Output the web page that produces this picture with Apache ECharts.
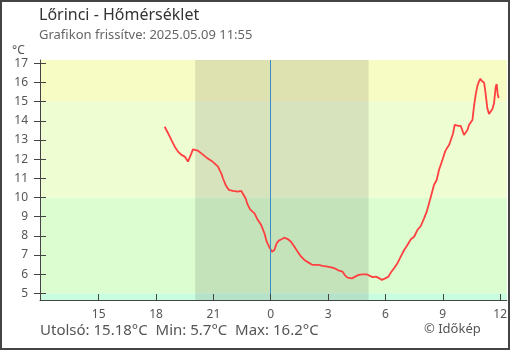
<!DOCTYPE html>
<html>
<head>
<meta charset="utf-8">
<title>Lőrinci - Hőmérséklet</title>
<script src="https://cdn.jsdelivr.net/npm/echarts@6/dist/echarts.min.js"></script>
<style>
  html, body { margin: 0; padding: 0; background: #fff; }
  #chart { width: 510px; height: 350px; }
</style>
</head>
<body>
<div id="chart"></div>
<script>
// Measurement times, in hours counted from 2025-05-08 00:00 (24 = midnight)
const hours = [
  18.45, 18.63, 18.80, 18.98, 19.15, 19.33, 19.50, 19.67, 19.76, 19.85,
  19.93, 20.02, 20.19, 20.37, 20.63, 20.89, 21.06, 21.24, 21.41, 21.50,
  21.64, 21.81, 22.02, 22.28, 22.46, 22.54, 22.68, 22.80, 22.92, 23.15,
  23.32, 23.50, 23.67, 23.79, 23.93, 24.07, 24.19, 24.31, 24.42, 24.59,
  24.71, 24.89, 25.06, 25.24, 25.41, 25.59, 25.76, 25.98, 26.19, 26.50,
  26.71, 26.97, 27.23, 27.41, 27.58, 27.76, 27.90, 28.02, 28.25, 28.42,
  28.60, 28.81, 29.02, 29.16, 29.33, 29.51, 29.68, 29.81, 29.99, 30.16,
  30.28, 30.45, 30.63, 30.80, 30.98, 31.15, 31.33, 31.50, 31.67, 31.85,
  32.02, 32.16, 32.28, 32.40, 32.54, 32.68, 32.80, 32.98, 33.12, 33.24,
  33.33, 33.42, 33.54, 33.62, 33.71, 33.82, 33.94, 34.03, 34.11, 34.20,
  34.29, 34.37, 34.46, 34.55, 34.63, 34.72, 34.81, 34.89, 34.97, 35.03,
  35.16, 35.24, 35.33, 35.42, 35.50, 35.59, 35.68, 35.77, 35.82, 35.87,
  35.92
];
// Temperature in °C
const temps = [
  13.69, 13.35, 13.00, 12.65, 12.39, 12.22, 12.13, 11.87, 11.85, 12.30,
  12.51, 12.57, 12.44, 12.30, 12.09, 11.92, 11.78, 11.61, 11.26, 11.00,
  10.65, 10.39, 10.34, 10.30, 10.34, 10.25, 9.96, 9.61, 9.38, 9.17,
  8.83, 8.56, 8.13, 7.69, 7.40, 7.17, 7.26, 7.61, 7.75, 7.83,
  7.90, 7.83, 7.69, 7.43, 7.17, 6.91, 6.74, 6.60, 6.48, 6.48,
  6.43, 6.39, 6.34, 6.27, 6.18, 6.13, 5.92, 5.82, 5.78, 5.87,
  5.96, 5.99, 5.99, 5.92, 5.84, 5.87, 5.78, 5.70, 5.78, 5.87,
  6.08, 6.31, 6.57, 6.91, 7.26, 7.52, 7.82, 7.95, 8.30, 8.51,
  8.91, 9.26, 9.69, 10.13, 10.65, 10.91, 11.43, 11.95, 12.39, 12.61,
  12.74, 13.00, 13.35, 13.78, 13.83, 13.73, 13.73, 13.66, 13.26, 13.21,
  13.52, 13.78, 13.87, 14.04, 14.74, 15.35, 15.82, 16.04, 16.20, 16.09,
  15.99, 15.43, 14.65, 14.36, 14.42, 14.60, 14.91, 15.78, 15.92, 15.40,
  15.18
];

// Axis ticks
const xTicks = [15, 18, 21, 24, 27, 30, 33, 36];
const yTicks = [5, 6, 7, 8, 9, 10, 11, 12, 13, 14, 15, 16, 17];

// Temperature zones and the night interval (sunset .. sunrise)
const zoneEdges = [5, 10, 15];
const sunset = 20.05;
const sunrise = 29.12;
const midnight = 24;

// Summary texts
const lastValue = '15.18';
const minValue = '5.7';
const maxValue = '16.2';

const X_MIN = 11.93, X_MAX = 36.35;
const Y_MIN = 4.65, Y_MAX = 17.17;

const FONT = '"Noto Sans", "Open Sans", sans-serif';
const zoneColors = ['#c9fde0', '#dcfdd0', '#effdd2', '#f6fcc4'];

const chart = echarts.init(document.getElementById('chart'), null, { renderer: 'canvas' });

const points = hours.map((h, i) => [h, temps[i]]);
const zoneBounds = [Y_MIN, ...zoneEdges, Y_MAX];
const zoneAreas = [];
for (let i = 0; i < zoneBounds.length - 1; i++) {
  zoneAreas.push([
    { yAxis: zoneBounds[i], itemStyle: { color: zoneColors[i] } },
    { yAxis: zoneBounds[i + 1] }
  ]);
}

const labelStyle = { color: '#555', fontSize: 12, fontFamily: FONT };

chart.setOption({
  animation: false,
  backgroundColor: '#fff',
  textStyle: { fontFamily: FONT },
  title: {
    left: 39,
    top: 7,
    padding: 0,
    itemGap: 6,
    text: 'Lőrinci - Hőmérséklet',
    subtext: 'Grafikon frissítve: 2025.05.09 11:55',
    textStyle: { color: '#333', fontSize: 16, fontWeight: 'normal', fontFamily: FONT },
    subtextStyle: { color: '#666', fontSize: 13, fontFamily: FONT }
  },
  grid: { left: 40, right: 2, top: 60, bottom: 50, containLabel: false },
  xAxis: [{
    type: 'value',
    z: 10,
    min: X_MIN,
    max: X_MAX,
    splitLine: { show: false },
    axisLine: { show: true, onZero: false, lineStyle: { color: '#444', width: 1 } },
    axisTick: { show: true, inside: true, length: 6, customValues: xTicks, lineStyle: { color: '#444' } },
    axisLabel: {
      ...labelStyle,
      margin: 9,
      customValues: xTicks,
      formatter: v => String(Math.round(v) % 24)
    }
  }],
  yAxis: [{
    type: 'value',
    z: 10,
    min: Y_MIN,
    max: Y_MAX,
    splitLine: { show: false },
    axisLine: { show: true, onZero: false, lineStyle: { color: '#444', width: 1 } },
    axisTick: { show: true, inside: false, length: 6, customValues: yTicks, lineStyle: { color: '#444' } },
    axisLabel: { ...labelStyle, margin: 12, customValues: yTicks }
  }, {
    type: 'value',
    z: 10,
    position: 'left',
    offset: 0,
    min: Y_MIN,
    max: Y_MAX,
    splitLine: { show: false },
    axisLine: { show: false },
    axisTick: { show: true, inside: true, length: 6, customValues: yTicks, lineStyle: { color: '#444' } },
    axisLabel: { show: false }
  }],
  series: [
    {
      name: 'zones',
      type: 'line',
      data: [],
      z: 1,
      silent: true,
      markArea: { silent: true, data: zoneAreas }
    },
    {
      name: 'night',
      type: 'line',
      data: [],
      z: 2,
      silent: true,
      markArea: {
        silent: true,
        itemStyle: { color: 'rgba(0,0,0,0.1)' },
        data: [[{ xAxis: sunset }, { xAxis: sunrise }]]
      },
      markLine: {
        silent: true,
        symbol: 'none',
        label: { show: false },
        lineStyle: { color: '#3a8cc4', width: 1, type: 'solid' },
        data: [{ xAxis: midnight }]
      }
    },
    {
      name: 'Hőmérséklet',
      type: 'line',
      data: points,
      z: 3,
      showSymbol: false,
      symbol: 'none',
      lineStyle: { color: '#ff4040', width: 1.8 }
    }
  ],
  graphic: [
    {
      type: 'text',
      left: 12,
      top: 45,
      style: { text: '°C', fill: '#555', font: '12px ' + FONT }
    },
    {
      type: 'text',
      left: 40,
      top: 323,
      style: {
        text: 'Utolsó: ' + lastValue + '°C  Min: ' + minValue + '°C  Max: ' + maxValue + '°C',
        fill: '#555',
        font: '15px ' + FONT
      }
    },
    {
      type: 'text',
      left: 424,
      top: 323,
      style: { text: '© Időkép', fill: '#555', font: '13px ' + FONT }
    },
    {
      type: 'rect',
      z: 100,
      silent: true,
      shape: { x: 1, y: 1, width: 508, height: 348 },
      style: { fill: 'none', stroke: '#444', lineWidth: 2 }
    }
  ]
});
</script>
</body>
</html>
